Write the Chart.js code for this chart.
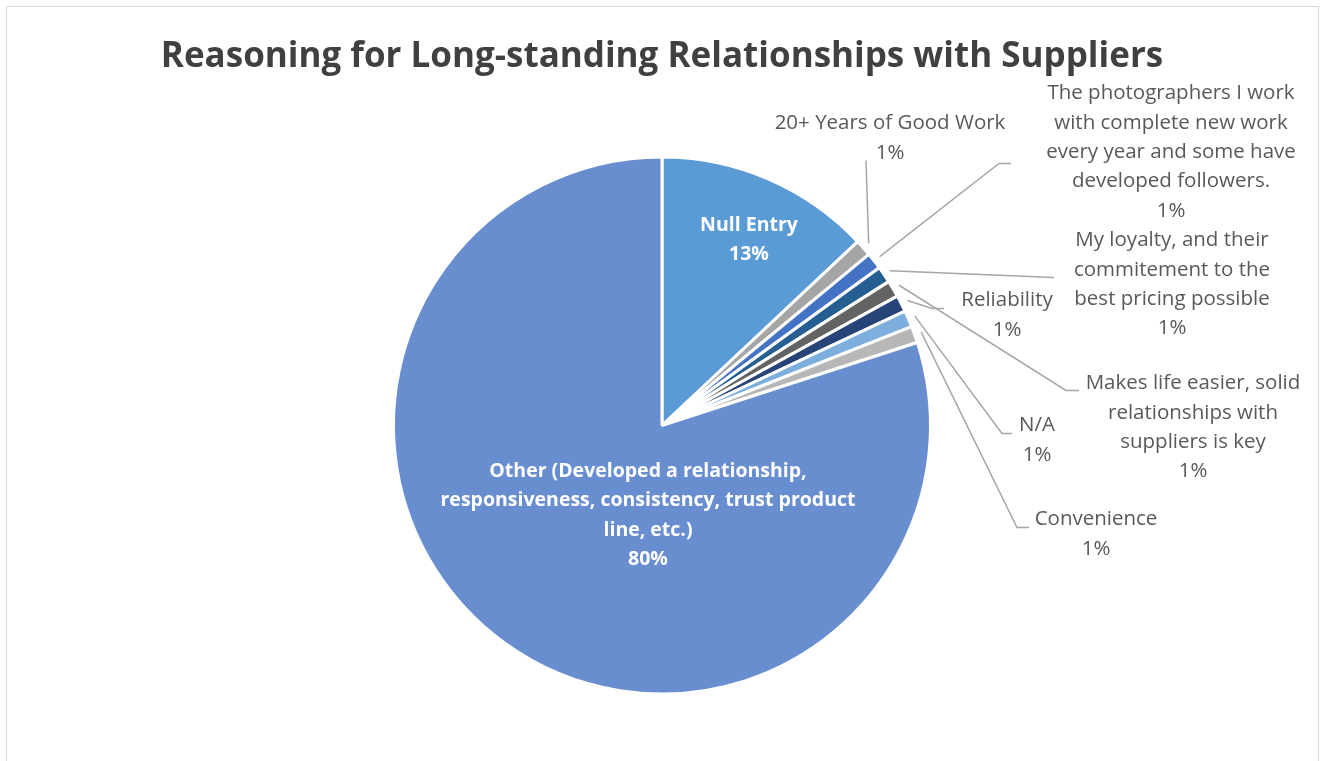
<!DOCTYPE html>
<html>
<head>
<meta charset="utf-8">
<script src="https://cdn.jsdelivr.net/npm/chart.js@4.4.0/dist/chart.umd.min.js"></script>
<style>
  html, body { margin: 0; padding: 0; background: #fff; overflow: hidden; }
  #frame {
    position: absolute; left: 6px; top: 6px; width: 1313px; height: 800px;
    border: 1.5px solid #d9d9d9; box-sizing: border-box;
  }
  #wrap { position: absolute; left: 0; top: 0; width: 1325px; height: 761px; }
</style>
</head>
<body>
<div id="frame"></div>
<div id="wrap"><canvas id="pie"></canvas></div>
<script>
// ---------- Data ----------
const categories = [
  "Null Entry",
  "20+ Years of Good Work",
  "The photographers I work with complete new work every year and some have developed followers.",
  "My loyalty, and their commitement to the best pricing possible",
  "Makes life easier, solid relationships with suppliers is key",
  "Reliability",
  "N/A",
  "Convenience",
  "Other (Developed a relationship, responsiveness, consistency, trust product line, etc.)"
];
const shares = [13, 1, 1, 1, 1, 1, 1, 1, 80];

// label text as it wraps in the picture
const labelLines = [
  ["Null Entry"],
  ["20+ Years of Good Work"],
  ["The photographers I work", "with complete new work", "every year and some have", "developed followers."],
  ["My loyalty, and their", "commitement to the", "best pricing possible"],
  ["Makes life easier, solid", "relationships with", "suppliers is key"],
  ["Reliability"],
  ["N/A"],
  ["Convenience"],
  ["Other (Developed a relationship,", "responsiveness, consistency, trust product", "line, etc.)"]
];

const colors = ["#5b9bd5", "#a5a5a5", "#4472c4", "#255e91", "#636363",
                "#264478", "#7cafdd", "#b7b7b7", "#698ed0"];

// ---------- Label layout (offsets from pie centre) ----------
// text: centre x / first line y; end: leader elbow; tail: horizontal bit
const labelLayout = [
  { inside: true, text: [87, -200] },
  { text: [228, -302], end: [204, -265], tail: 0 },
  { text: [509, -332], end: [337, -262], tail: 12 },
  { text: [510, -185], end: [392, -148], tail: 0 },
  { text: [531, -42],  end: [404, -35],  tail: 13 },
  { text: [345, -125], end: [270, -117], tail: 12 },
  { text: [375, 0],    end: [340, 8],    tail: 10 },
  { text: [434, 94],   end: [355, 102],  tail: 12 },
  { inside: true, text: [-14, 46] }
];

const FONT = "'Open Sans', 'Noto Sans', sans-serif";
const LINE_H = 29.3;

// ---------- Label plugin ----------
const pieLabels = {
  id: "pieLabels",
  afterDatasetsDraw(chart) {
    const ctx = chart.ctx;
    const meta = chart.getDatasetMeta(0);
    const total = shares.reduce((a, b) => a + b, 0);

    meta.data.forEach((arc, i) => {
      const p = arc.getProps(["x", "y", "startAngle", "endAngle", "outerRadius"], true);
      const lay = labelLayout[i];
      const lines = labelLines[i].concat(Math.round(shares[i] / total * 100) + "%");
      const tx = p.x + lay.text[0];
      const ty = p.y + lay.text[1];

      ctx.save();
      if (!lay.inside) {
        // leader line from just outside the slice
        const mid = (p.startAngle + p.endAngle) / 2;
        const r = p.outerRadius + 7;
        const sx = p.x + Math.cos(mid) * r;
        const sy = p.y + Math.sin(mid) * r;
        const ex = p.x + lay.end[0];
        const ey = p.y + lay.end[1];
        ctx.strokeStyle = "#a6a6a6";
        ctx.lineWidth = 1.5;
        ctx.beginPath();
        ctx.moveTo(sx, sy);
        ctx.lineTo(ex, ey);
        if (lay.tail) ctx.lineTo(ex + lay.tail, ey);
        ctx.stroke();
      }
      ctx.fillStyle = lay.inside ? "#ffffff" : "#595959";
      ctx.font = (lay.inside ? "bold 19.5px " : "20.5px ") + FONT;
      ctx.textAlign = "center";
      ctx.textBaseline = "middle";
      lines.forEach((t, k) => ctx.fillText(t, tx, ty + k * LINE_H));
      ctx.restore();
    });
  }
};

// ---------- Chart ----------
const chart = new Chart(document.getElementById("pie"), {
  type: "pie",
  data: {
    labels: categories,
    datasets: [{
      data: shares,
      backgroundColor: colors,
      borderColor: "#ffffff",
      borderWidth: 3
    }]
  },
  options: {
    responsive: true,
    maintainAspectRatio: false,
    animation: false,
    layout: { padding: { left: 0, right: 1, top: 0, bottom: 65.5 } },
    plugins: {
      legend: { display: false },
      tooltip: { enabled: false },
      title: {
        display: true,
        text: "Reasoning for Long-standing Relationships with Suppliers",
        color: "#404040",
        font: { family: FONT, size: 35, weight: "bold", lineHeight: 1.2 },
        padding: { top: 36, bottom: 77.5 }
      }
    }
  },
  plugins: [pieLabels]
});
</script>
</body>
</html>
